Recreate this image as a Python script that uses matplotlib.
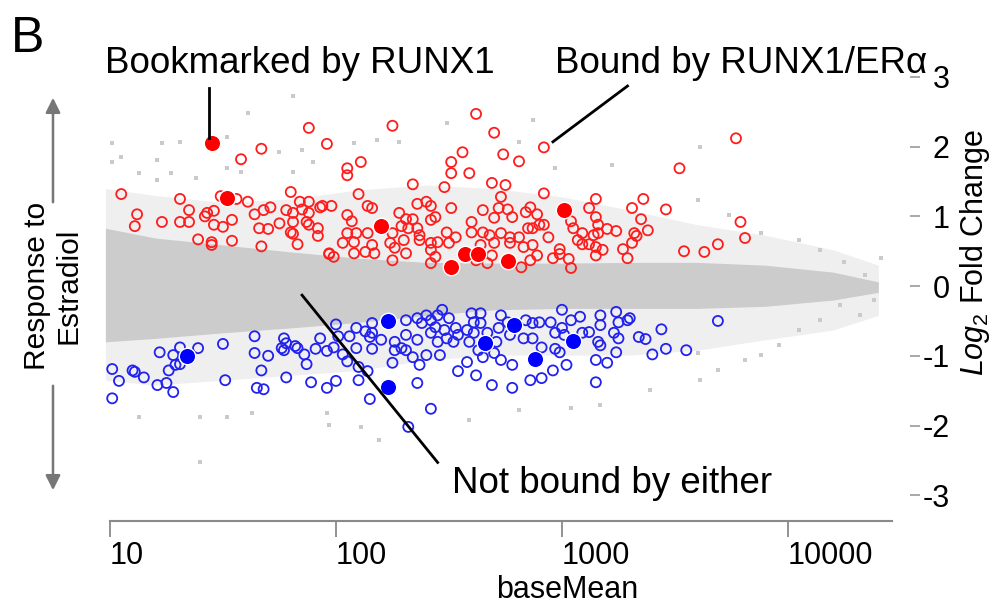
import matplotlib
matplotlib.use('Agg')
import matplotlib.pyplot as plt
import numpy as np

plt.rcParams['font.family'] = ['Liberation Sans', 'DejaVu Sans']
plt.rcParams['mathtext.fontset'] = 'custom'
plt.rcParams['mathtext.rm'] = 'Liberation Sans'
plt.rcParams['mathtext.it'] = 'Liberation Sans:italic'

# x values are log10(baseMean), y values are log2 fold change
# red: induced genes, open = bound by RUNX1/ERa, filled = bookmarked by RUNX1
red_open_lg = [1.88, 1.96, 1.67, 1.58, 1.05, 1.31, 1.80, 1.84, 1.88, 1.93, 1.61, 1.56, 1.49,
               1.71, 1.68, 1.64, 1.35, 1.12, 1.11, 1.23, 1.31, 1.35, 1.42, 1.43, 1.46, 1.46,
               1.50, 1.54, 1.39, 1.45, 1.45, 1.54, 1.66, 1.70, 1.67, 1.75, 1.78, 1.81, 1.81,
               1.80, 1.81, 1.85, 1.87, 1.88, 1.88, 1.92, 1.92, 1.83, 1.97,
               2.62, 2.25, 2.70, 2.92, 2.56, 2.74, 2.81, 2.11, 2.51, 2.05,
               2.05, 2.51, 2.59, 2.34, 2.48, 2.69, 2.75, 2.92, 2.10, 2.73,
               1.94, 1.98, 2.14, 2.16, 2.36, 2.40, 2.42, 2.51, 2.65, 2.72,
               2.76, 2.84, 2.86, 2.89, 2.05, 2.28, 2.31, 2.34, 2.44, 2.42,
               2.60, 2.70, 2.78, 2.07, 2.05, 2.09, 2.14, 2.03, 2.08, 2.16,
               2.17, 2.13, 2.08, 1.97, 1.99, 2.25, 2.29, 2.32, 2.36, 2.37,
               2.37, 2.24, 2.30, 2.26, 2.31, 2.25, 2.42, 2.45, 2.42, 2.44,
               2.42, 2.49, 2.53, 2.50, 2.60, 2.65, 2.68, 2.73, 2.77, 2.81,
               2.85, 2.87, 2.90, 2.64, 2.70, 2.77, 2.83, 2.87, 2.89, 2.86,
               2.82, 2.69, 2.67, 2.62,
               3.77, 3.52, 3.15, 3.36, 3.12, 3.31, 3.46, 3.15, 3.35, 3.04,
               2.92, 3.05, 3.16, 3.20, 3.24, 3.38, 3.79, 3.81, 2.94, 3.09,
               3.07, 3.09, 3.14, 3.16, 3.32, 3.33, 3.31, 3.12, 3.15, 3.18,
               3.15, 3.27, 3.29, 2.99, 2.99, 3.03, 2.96, 3.04, 3.54, 3.63,
               3.69]
red_open_lfc = [2.27, 2.04, 1.97, 1.82, 1.32, 1.25, 1.35, 1.21, 1.21, 1.13, 1.21, 1.25, 1.29,
                1.13, 1.09, 1.03, 1.09, 1.03, 0.86, 0.92, 0.92, 0.92, 1.00, 1.05, 1.08, 0.88,
                0.85, 0.95, 0.67, 0.63, 0.59, 0.65, 0.83, 0.82, 0.57, 0.90, 1.09, 1.05, 0.92,
                0.77, 0.75, 1.10, 0.92, 1.05, 0.88, 0.83, 0.72, 0.60, 0.46,
                2.47, 2.30, 2.20, 1.99, 1.92, 1.89, 1.79, 1.78, 1.78, 1.69,
                1.59, 1.62, 1.62, 1.46, 1.42, 1.48, 1.45, 1.33, 1.32, 1.28,
                1.15, 1.15, 1.15, 1.12, 1.18, 1.21, 1.15, 1.12, 1.09, 1.12,
                1.10, 1.06, 1.13, 1.03, 1.02, 1.05, 0.96, 0.96, 0.99, 0.95,
                0.92, 0.98, 0.99, 0.93, 0.76, 0.76, 0.76, 0.62, 0.63, 0.59,
                0.47, 0.49, 0.47, 0.47, 0.42, 0.76, 0.86, 0.83, 0.83, 0.73,
                0.66, 0.62, 0.66, 0.55, 0.47, 0.37, 0.62, 0.63, 0.52, 0.42,
                0.33, 0.77, 0.70, 0.62, 0.77, 0.77, 0.73, 0.76, 0.70, 0.70,
                0.83, 0.83, 0.88, 0.59, 0.62, 0.62, 0.56, 0.59, 0.44, 0.37,
                0.27, 0.44, 0.33, 0.37,
                2.12, 1.69, 1.25, 1.25, 1.12, 1.12, 1.10, 0.99, 0.96, 0.93,
                0.88, 0.83, 0.88, 0.82, 0.79, 0.80, 0.92, 0.69, 0.70, 0.76,
                0.66, 0.60, 0.73, 0.76, 0.76, 0.72, 0.62, 0.60, 0.56, 0.52,
                0.44, 0.53, 0.40, 0.53, 0.46, 0.39, 0.40, 0.26, 0.50, 0.49,
                0.60]
red_fill_lg = [1.45, 1.52, 2.20, 2.57, 2.63, 2.51, 2.76, 3.01]
red_fill_lfc = [2.05, 1.26, 0.86, 0.46, 0.46, 0.27, 0.36, 1.09]

# blue: repressed genes
blue_open_lg = [1.01, 1.04, 1.01, 1.10, 1.11, 1.15, 1.21, 1.25, 1.28, 1.26,
                1.22, 1.28, 1.29, 1.31, 1.31, 1.39, 1.50, 1.51, 1.64, 1.64,
                1.70, 1.67, 1.65, 1.68, 1.77, 1.78, 1.76, 1.77, 1.82, 1.83,
                1.86, 1.87, 1.78, 1.89, 1.93, 1.91, 1.96, 1.99, 2.00, 2.01,
                2.03, 2.05, 2.06, 2.09, 2.13, 2.16, 2.16, 2.15, 2.09, 2.16,
                2.10, 2.14, 2.10, 2.00, 1.96, 2.15,
                2.20, 2.25, 2.31, 2.36, 2.38, 2.40, 2.42, 2.45, 2.47, 2.50,
                2.44, 2.48, 2.53, 2.42, 2.31, 2.36, 2.26, 2.26, 2.29, 2.31,
                2.34, 2.40, 2.46, 2.45, 2.49, 2.52, 2.54, 2.37, 2.36, 2.42,
                2.32, 2.58, 2.54, 2.62, 2.60, 2.64, 2.61, 2.64, 2.58, 2.61,
                2.59, 2.63, 2.65, 2.70, 2.73, 2.69, 2.67, 2.72, 2.71, 2.73,
                2.76, 2.77, 2.78, 2.78, 2.84, 2.87, 2.83, 2.87, 2.91, 2.86,
                2.91, 2.96, 2.90, 2.95, 2.97, 3.00, 3.00, 3.04, 3.08, 3.01,
                2.97, 2.99, 3.02, 3.09, 3.12, 3.17, 3.17, 3.16, 3.17, 3.15,
                3.20, 3.15, 3.24, 3.25, 3.29, 3.30, 3.23, 3.25, 3.24, 3.34,
                3.37, 3.40, 3.44, 3.46, 3.55, 3.69]
blue_open_lfc = [-1.19, -1.36, -1.61, -1.21, -1.23, -1.31, -1.42, -1.39, -1.52, -1.21,
                 -0.95, -0.99, -1.13, -0.88, -1.12, -0.89, -0.83, -1.35, -0.72, -0.96,
                 -1.00, -1.21, -1.46, -1.48, -0.75, -0.82, -0.89, -0.92, -0.86, -0.89,
                 -0.98, -1.12, -1.31, -1.38, -0.75, -0.90, -0.93, -0.88, -0.55, -0.72,
                 -0.98, -1.08, -0.72, -0.60, -0.65, -0.53, -0.67, -0.73, -0.89, -0.90,
                 -1.16, -1.22, -1.35, -1.36, -1.46, -1.62,
                 -0.77, -1.10, -0.49, -0.46, -0.53, -0.42, -0.49, -0.42, -0.34, -0.46,
                 -0.59, -0.63, -0.60, -0.67, -0.70, -0.77, -0.80, -0.92, -0.89, -0.92,
                 -1.02, -0.99, -0.99, -0.80, -0.75, -0.80, -0.70, -1.13, -1.39, -1.76,
                 -2.02, -1.09, -1.22, -1.28, -0.39, -0.39, -0.52, -0.53, -0.63, -0.67,
                 -0.80, -0.92, -1.02, -0.96, -1.06, -1.42, -0.67, -0.60, -0.80, -0.42,
                 -0.52, -0.70, -1.46, -1.13, -0.49, -0.53, -0.75, -0.75, -0.88, -1.35,
                 -1.32, -1.21, -0.52, -0.52, -0.67, -0.60, -0.34, -0.49, -0.44, -0.70,
                 -0.90, -0.95, -1.13, -0.67, -0.66, -0.42, -0.56, -0.80, -0.85, -1.06,
                 -1.10, -1.38, -0.37, -0.52, -0.49, -0.46, -0.67, -0.75, -0.95, -0.73,
                 -0.76, -0.98, -0.62, -0.90, -0.92, -0.50]
blue_fill_lg = [1.34, 2.23, 2.23, 2.66, 2.79, 2.88, 3.05]
blue_fill_lfc = [-1.00, -0.50, -1.45, -0.82, -0.56, -1.05, -0.79]

# grey: all other genes (dense core and lighter halo as envelopes, plus stray points)
cloud_lg = [0.98, 1.2, 1.5, 1.8, 2.1, 2.4, 2.7, 3.0, 3.3, 3.6, 3.9, 4.2, 4.4]
core_up = [0.83, 0.69, 0.59, 0.49, 0.40, 0.34, 0.33, 0.33, 0.34, 0.34, 0.30, 0.20, 0.06]
core_low = [-0.80, -0.75, -0.67, -0.60, -0.52, -0.42, -0.34, -0.32, -0.32, -0.32, -0.29, -0.20, -0.09]
halo_up = [1.40, 1.30, 1.20, 1.25, 1.38, 1.45, 1.40, 1.28, 1.09, 0.88, 0.73, 0.52, 0.30]
halo_low = [-1.35, -1.42, -1.35, -1.28, -1.21, -1.06, -0.99, -0.99, -0.99, -0.92, -0.77, -0.63, -0.42]
grey_lg = [1.01, 1.05, 1.01, 1.23, 1.31, 1.52, 1.61, 1.21, 1.13, 1.21,
           1.27, 1.38, 1.52, 1.58, 1.75, 1.85, 1.81, 1.90, 1.81, 2.28,
           2.18, 2.08, 2.81, 2.87, 2.49, 3.22, 3.61, 2.97, 3.74, 3.88,
           3.60, 4.05, 4.14, 4.25, 4.34, 4.41, 4.38, 4.32, 4.23, 4.14,
           4.05, 3.96, 3.88, 1.40, 1.97, 2.19, 2.59, 2.81, 3.17, 3.39,
           3.61, 3.81, 1.13, 1.40, 1.52, 1.63, 1.96, 2.11, 3.04, 3.69, 3.60]
grey_lfc = [2.05, 1.85, 1.78, 2.05, 2.07, 2.14, 2.48, 1.81, 1.62, 1.52,
            1.62, 1.55, 1.69, 1.64, 1.92, 1.95, 1.64, 1.78, 2.73, 2.07,
            2.09, 2.05, 2.07, 2.38, 2.34, 1.74, 1.99, 1.69, 1.02, 0.76,
            1.23, 0.66, 0.52, 0.34, 0.16, 0.40, -0.20, -0.42, -0.27, -0.49,
            -0.63, -0.85, -0.99, -2.53, -1.99, -2.21, -1.92, -1.78, -1.71, -1.49,
            -1.35, -1.06, -1.88, -1.88, -1.88, -1.82, -1.82, -2.02, -1.75, -1.21, -0.96]

x_ticks = [10, 100, 1000, 10000]
y_ticks = [-3, -2, -1, 0, 1, 2, 3]

W, H = 995, 604
fig = plt.figure(figsize=(W / 100, H / 100), dpi=100)


def fx(px):
    return px / W


def fy(py):
    return 1 - py / H


ax = fig.add_axes([fx(100), fy(521), fx(910) - fx(100), fy(70) - fy(521)])
ax.set_xscale('log')
ax.set_xlim(10 ** 0.956, 10 ** 4.54)
ax.set_ylim(-3.37, 3.10)

cx = 10 ** np.array(cloud_lg)
ax.fill_between(cx, halo_low, halo_up, color='#efefef', lw=0, zorder=1)
ax.fill_between(cx, core_low, core_up, color='#cccccc', lw=0, zorder=1.5)
ax.scatter(10 ** np.array(grey_lg), grey_lfc, s=12, marker='s', color='#cacaca',
           lw=0, zorder=2)

ax.scatter(10 ** np.array(red_open_lg), red_open_lfc, s=52, facecolors='none',
           edgecolors='#ff1c1c', linewidths=1.3, zorder=3)
ax.scatter(10 ** np.array(blue_open_lg), blue_open_lfc, s=52, facecolors='none',
           edgecolors='#2121f0', linewidths=1.3, zorder=3)
ax.scatter(10 ** np.array(red_fill_lg), red_fill_lfc, s=140, color='#ff0000',
           edgecolors='white', linewidths=1.0, zorder=4)
ax.scatter(10 ** np.array(blue_fill_lg), blue_fill_lfc, s=140, color='#0000ff',
           edgecolors='white', linewidths=1.0, zorder=4)

# axes styling
for side in ['top', 'left', 'right']:
    ax.spines[side].set_visible(False)
ax.spines['bottom'].set_color('#8a8a8a')
ax.spines['bottom'].set_linewidth(1.5)
ax.spines['bottom'].set_bounds(10, 10 ** 4.46)
ax.set_xticks(x_ticks)
ax.set_xticklabels([str(t) for t in x_ticks])
ax.xaxis.set_minor_locator(matplotlib.ticker.NullLocator())
ax.tick_params(axis='x', direction='out', length=11.5, width=1.3, color='#8a8a8a',
               labelsize=22, pad=3)
for lbl in ax.get_xticklabels():
    lbl.set_horizontalalignment('left')

ax.yaxis.tick_right()
ax.set_yticks(y_ticks)
ax.set_yticklabels([str(t) for t in y_ticks])
ax.tick_params(axis='y', direction='out', length=7, width=1.2, color='#9a9a9a',
               labelsize=22, pad=21.5)
for lbl in ax.get_yticklabels():
    lbl.set_horizontalalignment('right')

fig.text(fx(567), fy(590), 'baseMean', ha='center', va='center', fontsize=22)
fig.text(fx(975), fy(252), r'$Log_2$ Fold Change', rotation=90, ha='center',
         va='center', fontsize=22)

# annotations
fig.text(fx(11), fy(52), 'B', ha='left', va='baseline', fontsize=36)
fig.text(fx(300), fy(73), 'Bookmarked by RUNX1', ha='center', va='baseline', fontsize=26.5)
fig.text(fx(555), fy(73), 'Bound by RUNX1/ERα', ha='left', va='baseline', fontsize=26.5)
fig.text(fx(452), fy(493), 'Not bound by either', ha='left', va='baseline', fontsize=26.5)

ax.plot([10 ** 1.44, 10 ** 1.44], [2.84, 2.12], color='black', lw=2, clip_on=False, zorder=5)
ax.plot([10 ** 3.29, 10 ** 2.96], [2.87, 2.07], color='black', lw=2, clip_on=False, zorder=5)
ax.plot([10 ** 1.85, 10 ** 2.45], [-0.13, -2.53], color='black', lw=2, clip_on=False, zorder=5)

# response arrows and label on the left
arrow_kw = dict(arrowstyle='-|>', color='#777777', lw=1.8, mutation_scale=22)
ax.annotate('', xy=(fx(53), fy(95)), xytext=(fx(53), fy(205)), xycoords='figure fraction',
            arrowprops=arrow_kw, annotation_clip=False)
ax.annotate('', xy=(fx(53), fy(493)), xytext=(fx(53), fy(383)), xycoords='figure fraction',
            arrowprops=arrow_kw, annotation_clip=False)
fig.text(fx(53), fy(286), 'Response to\nEstradiol', rotation=90, ha='center', va='center',
         fontsize=21.5, linespacing=1.15, multialignment='center')

fig.savefig('out.png', dpi=100)
